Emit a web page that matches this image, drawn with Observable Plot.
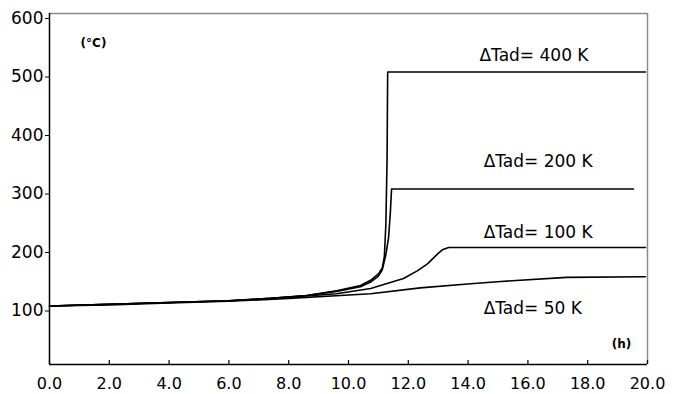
<!DOCTYPE html>
<html>
<head>
<meta charset="utf-8">
<script src="https://cdn.jsdelivr.net/npm/d3@7"></script>
<script src="https://cdn.jsdelivr.net/npm/@observablehq/plot@0.6"></script>
<style>
  html, body { margin: 0; padding: 0; background: #fff; }
</style>
</head>
<body>
<div id="chart"></div>
<script>
// Data (time in hours, temperature in °C)
const t400 = [0, 2, 4, 6, 7.4, 8.6, 9.6, 10.4, 10.74, 11.0, 11.13, 11.2, 11.25, 11.29, 11.31, 19.93];
const v400 = [100, 103, 106, 109, 113, 118, 126, 135, 144, 155, 165, 185, 240, 350, 500, 500];

const t200 = [0, 2, 4, 6, 7.4, 8.6, 9.6, 10.4, 10.74, 11.0, 11.13, 11.25, 11.34, 11.4, 11.44, 19.53];
const v200 = [100, 103, 106, 109, 113, 118, 125, 133, 141, 151, 162, 188, 217, 260, 300, 300];

const t100 = [0, 2, 4, 6, 8, 9.6, 10.74, 11.84, 12.3, 12.64, 13.0, 13.14, 13.35, 19.93];
const v100 = [100, 103, 106, 109, 115, 121, 130, 147, 160, 172, 190, 196, 200, 200];

const t50 = [0, 2, 4, 6, 8, 9.73, 10.74, 12.4, 14.08, 15.1, 17.3, 19.93];
const v50 = [100, 102, 105, 108, 113, 118, 121, 131, 138, 142, 149, 150];

const seriesNames = ["ΔTad= 400 K", "ΔTad= 200 K", "ΔTad= 100 K", "ΔTad= 50 K"];
const xTicks = [0, 2, 4, 6, 8, 10, 12, 14, 16, 18, 20];
const yTicks = [100, 200, 300, 400, 500, 600];

const seriesData = [[t400, v400], [t200, v200], [t100, v100], [t50, v50]];
const rows = seriesData.flatMap(([ts, vs], i) =>
  ts.map((t, j) => ({series: seriesNames[i], t, v: vs[j]})));

// label placement (layout, not data)
const labelPlace = [
  {name: seriesNames[0], x: 14.38, y: 528},
  {name: seriesNames[1], x: 14.52, y: 347},
  {name: seriesNames[2], x: 14.52, y: 226},
  {name: seriesNames[3], x: 14.52, y: 96}
];

const font = "'DejaVu Sans', 'Liberation Sans', Arial, sans-serif";

const chart = Plot.plot({
  width: 678,
  height: 394,
  marginLeft: 49,
  marginRight: 31,
  marginTop: 13,
  marginBottom: 30,
  style: {fontFamily: font, fontSize: "16px", color: "#000", background: "#fff"},
  x: {domain: [0, 20]},
  y: {domain: [0, 600]},
  marks: [
    Plot.ruleY([600], {stroke: "#8a8a8a", strokeWidth: 1.5}),
    Plot.ruleX([20], {stroke: "#8a8a8a", strokeWidth: 1.5}),
    Plot.axisY(yTicks, {tickSize: 4, tickPadding: 2, dy: 5, fontSize: 17, label: null, stroke: "#000"}),
    Plot.axisX(xTicks, {tickSize: 0, tickPadding: 13, fontSize: 16, tickFormat: d => d.toFixed(1), label: null}),
    Plot.ruleX(xTicks, {insetTop: 347, stroke: "#000", strokeWidth: 1.2}),
    Plot.ruleX([0], {stroke: "#000", strokeWidth: 1.5}),
    Plot.ruleY([0], {stroke: "#000", strokeWidth: 1.5}),
    Plot.line(rows, {x: "t", y: "v", z: "series", stroke: "#000", strokeWidth: 1.6}),
    Plot.text(labelPlace, {x: "x", y: "y", text: "name", fontSize: 17, textAnchor: "start"}),
    Plot.text(["(°C)"], {frameAnchor: "top-left", dx: 44, dy: 25, fontSize: 12, fontWeight: "bold", textAnchor: "middle"}),
    Plot.text(["(h)"], {frameAnchor: "bottom-right", dx: -26, dy: -17, fontSize: 12, fontWeight: "bold", textAnchor: "middle"})
  ]
});
document.getElementById("chart").appendChild(chart);
</script>
</body>
</html>
